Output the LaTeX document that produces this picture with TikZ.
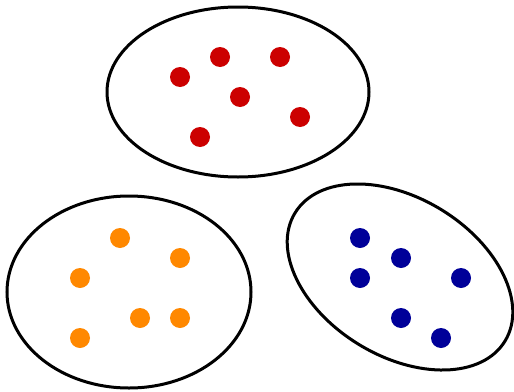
\documentclass[tikz,border=0pt]{standalone}
\definecolor{dotred}{RGB}{204,0,0}
\definecolor{dotorange}{RGB}{255,136,0}
\definecolor{dotblue}{RGB}{0,0,153}
\tikzset{
  setline/.style={draw=black, line width=3pt},
  dot/.style={circle, inner sep=0pt, minimum size=20pt, draw=none},
  rdot/.style={dot, fill=dotred},
  odot/.style={dot, fill=dotorange},
  bdot/.style={dot, fill=dotblue}
}
\begin{document}
\begin{tikzpicture}[x=1pt, y=-1pt]
\useasboundingbox (0,0) rectangle (514,391);
% sets
\draw[setline] (238,92) ellipse [x radius=131, y radius=85];
\draw[setline] (129,292) ellipse [x radius=122, y radius=96];
\draw[setline, rotate around={-31.4:(400,277)}] (400,277) ellipse [x radius=123, y radius=79];
% red elements
\node[rdot] (r1) at (180,77) {};
\node[rdot] (r2) at (220,57) {};
\node[rdot] (r3) at (280,57) {};
\node[rdot] (r4) at (240,97) {};
\node[rdot] (r5) at (300,117) {};
\node[rdot] (r6) at (200,137) {};
% orange elements
\node[odot] (o1) at (120,238) {};
\node[odot] (o2) at (180,258) {};
\node[odot] (o3) at (80,278) {};
\node[odot] (o4) at (140,318) {};
\node[odot] (o5) at (180,318) {};
\node[odot] (o6) at (80,338) {};
% blue elements
\node[bdot] (b1) at (360,238) {};
\node[bdot] (b2) at (401,258) {};
\node[bdot] (b3) at (360,278) {};
\node[bdot] (b4) at (461,278) {};
\node[bdot] (b5) at (401,318) {};
\node[bdot] (b6) at (441,338) {};
\end{tikzpicture}
\end{document}
